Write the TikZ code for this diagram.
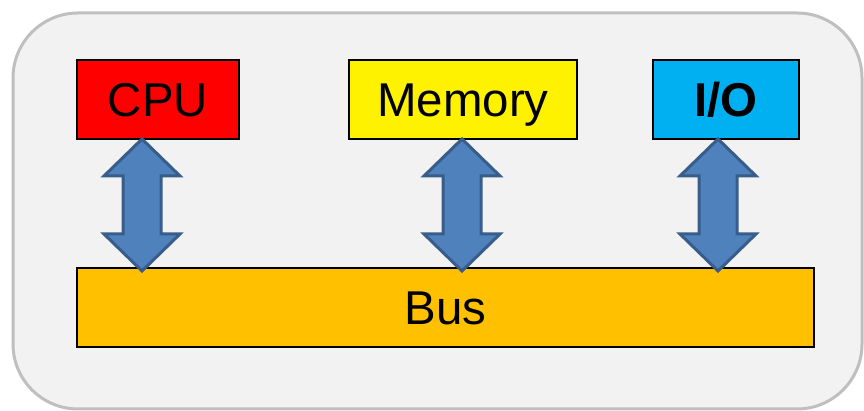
\documentclass[tikz,border=0pt]{standalone}
\usepackage{fontspec}
\setmainfont{Liberation Sans}
\usetikzlibrary{calc}
\definecolor{panelfill}{HTML}{F2F2F2}
\definecolor{panelline}{HTML}{BFBFBF}
\definecolor{iocyan}{HTML}{00B0F0}
\definecolor{busorange}{HTML}{FFC000}
\definecolor{arrowfill}{HTML}{4F81BD}
\definecolor{arrowline}{HTML}{385D8A}
\tikzset{
  unit/.style={shape=rectangle,draw=black,line width=0.04cm,minimum height=1.58cm,
    text height=0.68cm,text depth=0pt,font=\fontsize{27}{32}\selectfont},
  busarrow/.style={fill=arrowfill,draw=arrowline,line width=0.06cm,line join=miter}
}
% fat two-headed arrow from #1 (upper tip) to #2 (lower tip)
\newcommand\busarrow[2]{%
  \draw[busarrow] (#1) -- ++(38,37) -- ++(-19,0) -- ($(#2)+(19,-37)$) -- ++(19,0)
    -- (#2) -- ++(-38,-37) -- ++(19,0) -- ($(#1)+(-19,37)$) -- ++(-19,0) -- cycle;}

\begin{document}
\begin{tikzpicture}[x=0.2mm,y=-0.2mm]
      \useasboundingbox (0,0) rectangle (864,411);
      \draw[fill=panelfill,draw=panelline,line width=0.06cm,rounded corners=1.3cm]
        (13,13) rectangle (862,409);
      \node[unit,fill=red,minimum width=3.24cm] (cpu) at (158,99.5) {CPU};
      \node[unit,fill=yellow,minimum width=4.56cm] (mem) at (463,99.5) {Memory};
      \node[unit,fill=iocyan,minimum width=2.92cm,font=\fontsize{27}{32}\selectfont\bfseries] (io) at (726,99.5) {I/O};
      \node[unit,fill=busorange,minimum width=14.74cm] (bus) at (445.5,307.5) {Bus};
      % tips of the arrows
      \coordinate (c1) at ($(cpu.south)+(-16,-1)$);
      \coordinate (c2) at ($(mem.south)+(-1,-1)$);
      \coordinate (c3) at ($(io.south)+(-8,-1)$);
      \coordinate (b1) at ($(c1 |- bus.north)+(0,4)$);
      \coordinate (b2) at ($(c2 |- bus.north)+(0,4)$);
      \coordinate (b3) at ($(c3 |- bus.north)+(0,4)$);
      % units <-> bus
      \busarrow{c1}{b1}
      \busarrow{c2}{b2}
      \busarrow{c3}{b3}
\end{tikzpicture}
\end{document}
